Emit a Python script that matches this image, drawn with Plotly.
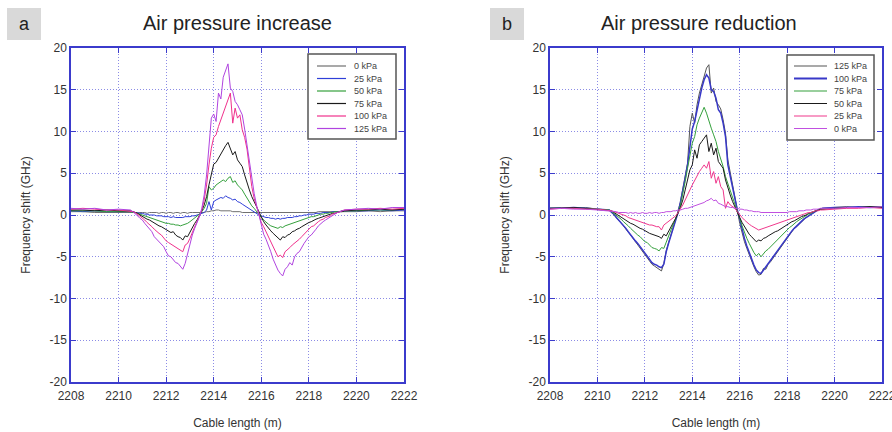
import plotly.graph_objects as go

# ---------------- shared x grid (cable length, m) ----------------
x_left = [2208.0, 2208.5, 2209.0, 2209.5, 2210.0]
x_mid = [round(2210.5 + 0.1 * i, 1) for i in range(91)]
x_right = [2220.0, 2220.5, 2221.0, 2221.5, 2222.0]
cable_length = x_left + x_mid + x_right

# ---------------- panel a : air pressure increase ----------------
a_labels = ["0 kPa", "25 kPa", "50 kPa", "75 kPa", "100 kPa", "125 kPa"]
a_colors = ["#707070", "#2f3fd8", "#34a03c", "#1a1a1a", "#f0308c", "#b044e0"]

a_0 = [0.4, 0.4, 0.3, 0.3, 0.3,
       0.3, 0.3, 0.3, 0.2, 0.3, 0.3, 0.3, 0.2, 0.3, 0.3,
       0.3, 0.3, 0.2, 0.3, 0.3, 0.2, 0.3, 0.3, 0.2, 0.3,
       0.3, 0.2, 0.3, 0.3, 0.2, 0.3, 0.3, 0.3, 0.3, 0.3,
       0.3, 0.3, 0.4, 0.4, 0.5, 0.5, 0.6, 0.6, 0.5, 0.5,
       0.5, 0.5, 0.5, 0.4, 0.4, 0.4, 0.4, 0.3, 0.3, 0.3,
       0.3, 0.3, 0.3, 0.3, 0.3, 0.3, 0.3, 0.3, 0.3, 0.3,
       0.3, 0.3, 0.3, 0.3, 0.3, 0.3, 0.3, 0.3, 0.3, 0.3,
       0.3, 0.3, 0.3, 0.3, 0.3, 0.3, 0.3, 0.3, 0.3, 0.4,
       0.4, 0.4, 0.4, 0.4, 0.4, 0.4, 0.4, 0.4, 0.4, 0.4,
       0.4,
       0.4, 0.5, 0.4, 0.5, 0.5]
a_25 = [0.5, 0.4, 0.5, 0.4, 0.4,
        0.4, 0.4, 0.3, 0.3, 0.2, 0.2, 0.1, 0.1, 0.0, 0.0,
        0.0, -0.1, -0.1, -0.1, -0.2, -0.2, -0.2, -0.3, -0.2, -0.3,
        -0.3, -0.3, -0.3, -0.2, -0.2, -0.2, -0.1, -0.1, 0.0, 0.1,
        0.2, 0.3, 0.6, 1.6, 0.6, 1.6, 1.8, 2.0, 2.1, 2.0,
        2.3, 2.1, 2.0, 1.8, 1.9, 1.6, 1.5, 1.3, 1.1, 0.9,
        0.7, 0.5, 0.3, 0.1, 0.0, -0.1, -0.2, -0.3, -0.3, -0.4,
        -0.4, -0.5, -0.4, -0.5, -0.4, -0.4, -0.3, -0.3, -0.3, -0.2,
        -0.2, -0.1, -0.1, 0.0, 0.0, 0.1, 0.1, 0.1, 0.2, 0.2,
        0.2, 0.3, 0.3, 0.3, 0.3, 0.4, 0.4, 0.4, 0.4, 0.5,
        0.5,
        0.5, 0.5, 0.6, 0.5, 0.6]
a_50 = [0.5, 0.5, 0.5, 0.4, 0.4,
        0.4, 0.3, 0.3, 0.2, 0.1, 0.0, -0.1, -0.2, -0.3, -0.4,
        -0.5, -0.6, -0.7, -0.8, -0.9, -1.0, -1.0, -1.1, -1.1, -1.2,
        -1.2, -1.3, -1.2, -1.1, -1.0, -0.8, -0.6, -0.4, -0.2, 0.1,
        0.4, 0.8, 1.4, 3.4, 3.0, 3.2, 3.6, 3.8, 3.9, 4.2,
        4.0, 4.4, 4.6, 3.9, 4.1, 3.6, 3.3, 3.0, 2.5, 2.0,
        1.5, 1.1, 0.8, 0.4, 0.1, -0.3, -0.6, -0.9, -1.1, -1.3,
        -1.4, -1.5, -1.6, -1.4, -1.5, -1.3, -1.2, -1.1, -1.0, -0.9,
        -0.8, -0.7, -0.6, -0.5, -0.4, -0.3, -0.2, -0.2, -0.1, 0.0,
        0.1, 0.1, 0.2, 0.2, 0.3, 0.3, 0.4, 0.4, 0.4, 0.5,
        0.5,
        0.5, 0.6, 0.6, 0.6, 0.7]
a_75 = [0.6, 0.6, 0.5, 0.6, 0.5,
        0.5, 0.4, 0.3, 0.2, 0.0, -0.2, -0.3, -0.5, -0.6, -0.8,
        -1.0, -1.1, -1.3, -1.4, -1.6, -1.8, -1.9, -2.1, -2.0, -2.4,
        -2.6, -2.7, -3.0, -2.5, -2.6, -2.0, -1.5, -1.0, -0.6, -0.1,
        0.5, 1.2, 2.2, 3.6, 5.0, 6.1, 6.3, 6.8, 7.4, 7.9,
        8.3, 8.7, 8.0, 7.2, 7.6, 6.6, 6.2, 5.8, 4.8, 3.8,
        3.0, 2.2, 1.6, 0.9, 0.2, -0.4, -0.8, -1.2, -1.6, -1.9,
        -2.2, -2.5, -2.8, -3.0, -2.6, -2.7, -2.4, -2.3, -2.0, -1.9,
        -1.7, -1.6, -1.4, -1.2, -1.0, -0.9, -0.8, -0.6, -0.5, -0.4,
        -0.3, -0.2, -0.1, 0.0, 0.1, 0.2, 0.2, 0.3, 0.4, 0.4,
        0.5,
        0.6, 0.6, 0.7, 0.6, 0.7]
a_100 = [0.7, 0.8, 0.7, 0.6, 0.6,
         0.5, 0.4, 0.3, 0.1, -0.1, -0.3, -0.6, -0.9, -1.1, -1.4,
         -1.7, -2.0, -2.2, -2.4, -2.8, -3.1, -3.3, -3.5, -3.6, -3.9,
         -4.1, -4.3, -4.4, -3.6, -3.4, -2.8, -2.0, -1.4, -0.8, -0.1,
         0.6, 1.8, 3.6, 6.0, 8.0, 9.3, 9.6, 10.6, 11.4, 12.4,
         13.2, 13.8, 14.6, 11.0, 12.8, 11.6, 12.0, 10.2, 9.3, 7.9,
         5.6, 3.4, 2.0, 1.0, 0.0, -0.9, -1.4, -2.0, -2.6, -3.1,
         -3.8, -4.4, -5.0, -4.8, -5.1, -4.4, -4.2, -3.9, -3.6, -3.4,
         -3.2, -2.9, -2.6, -2.3, -2.1, -1.8, -1.4, -1.3, -1.0, -0.8,
         -0.6, -0.5, -0.3, -0.2, -0.1, 0.1, 0.2, 0.3, 0.4, 0.5,
         0.6,
         0.7, 0.7, 0.8, 0.7, 0.8]
a_125 = [0.8, 0.7, 0.8, 0.6, 0.7,
         0.6, 0.4, 0.2, -0.1, -0.4, -0.6, -1.0, -1.3, -1.6, -2.0,
         -2.6, -2.9, -3.2, -3.5, -3.8, -4.4, -4.9, -5.0, -5.4, -5.7,
         -5.8, -6.1, -6.5, -5.8, -4.6, -3.4, -2.4, -1.6, -0.9, -0.2,
         0.8, 2.4, 4.8, 8.2, 11.6, 12.1, 11.2, 14.6, 13.9, 16.5,
         17.4, 18.1, 15.2, 14.8, 13.6, 13.2, 12.6, 12.0, 10.3, 8.4,
         6.0, 4.3, 2.6, 1.2, -0.1, -1.2, -2.3, -2.9, -3.6, -4.4,
         -5.3, -6.0, -6.6, -7.0, -7.3, -6.5, -6.2, -5.7, -6.0, -5.0,
         -4.6, -4.4, -3.8, -3.4, -3.0, -2.6, -2.4, -2.1, -1.7, -1.3,
         -1.0, -0.8, -0.6, -0.4, -0.2, 0.0, 0.1, 0.3, 0.4, 0.5,
         0.6,
         0.7, 0.8, 0.7, 0.9, 0.9]

# ---------------- panel b : air pressure reduction ----------------
b_labels = ["125 kPa", "100 kPa", "75 kPa", "50 kPa", "25 kPa", "0 kPa"]
b_colors = ["#555555", "#3838c8", "#34a03c", "#1a1a1a", "#f0388c", "#c050e0"]
b_widths = [1.0, 1.5, 1.0, 1.0, 1.0, 1.0]

b_125 = [0.8, 0.9, 0.8, 0.9, 0.7,
         0.6, 0.3, 0.0, -0.4, -0.6, -0.9, -1.3, -1.7, -2.0, -2.4,
         -2.8, -3.2, -3.5, -3.9, -4.3, -4.8, -5.2, -5.6, -5.9, -6.1,
         -6.3, -6.4, -6.7, -5.8, -4.3, -3.3, -2.4, -1.6, -0.6, 0.4,
         1.6, 3.0, 4.6, 6.2, 10.6, 12.2, 11.0, 13.2, 14.6, 15.6,
         16.9, 17.6, 18.0, 14.6, 15.2, 13.6, 13.2, 12.7, 11.4, 9.8,
         6.6, 5.2, 3.8, 2.3, 0.6, -1.0, -2.2, -3.2, -4.0, -4.8,
         -5.4, -6.2, -6.8, -7.2, -7.1, -6.4, -6.5, -5.9, -5.6, -5.2,
         -4.8, -4.5, -4.0, -3.6, -3.2, -2.8, -2.4, -2.0, -1.6, -1.4,
         -1.1, -0.8, -0.5, -0.3, -0.1, 0.1, 0.3, 0.5, 0.6, 0.7,
         0.8,
         0.9, 1.0, 0.9, 1.0, 1.0]
b_100 = [0.8, 0.8, 0.9, 0.8, 0.7,
         0.6, 0.3, 0.1, -0.3, -0.6, -0.9, -1.2, -1.6, -2.0, -2.4,
         -2.7, -3.1, -3.4, -3.8, -4.2, -4.6, -5.0, -5.4, -5.7, -5.9,
         -6.0, -6.2, -6.3, -5.9, -4.4, -3.4, -2.5, -1.6, -0.7, 0.3,
         1.5, 2.8, 4.4, 6.0, 8.2, 10.3, 11.2, 12.6, 14.0, 15.2,
         16.2, 16.8, 16.4, 15.0, 14.8, 14.0, 12.6, 12.2, 11.0, 9.4,
         6.0, 4.6, 3.0, 1.6, 0.6, -0.5, -1.8, -2.8, -3.7, -4.5,
         -5.3, -6.0, -6.6, -6.9, -7.0, -6.6, -6.2, -5.8, -5.4, -5.0,
         -4.6, -4.3, -3.8, -3.4, -3.0, -2.7, -2.3, -1.9, -1.6, -1.3,
         -1.0, -0.7, -0.5, -0.3, -0.1, 0.1, 0.3, 0.4, 0.6, 0.7,
         0.8,
         0.9, 0.9, 1.0, 0.9, 1.0]
b_75 = [0.8, 0.8, 0.8, 0.8, 0.7,
        0.6, 0.4, 0.2, 0.0, -0.3, -0.5, -0.8, -1.0, -1.3, -1.6,
        -1.9, -2.1, -2.4, -2.6, -2.9, -3.2, -3.3, -3.6, -3.9, -4.0,
        -4.1, -4.3, -3.9, -4.0, -3.2, -2.5, -1.8, -1.1, -0.5, 0.3,
        1.2, 2.5, 4.0, 5.6, 7.0, 8.6, 9.4, 10.8, 11.6, 12.3,
        12.9, 12.2, 11.2, 10.4, 9.6, 8.8, 7.6, 6.8, 5.8, 4.6,
        3.8, 3.0, 2.2, 1.4, 0.5, -0.4, -1.3, -2.1, -2.8, -3.4,
        -4.0, -4.5, -4.9, -4.6, -5.0, -4.6, -4.3, -4.1, -3.8, -3.5,
        -3.2, -2.9, -2.6, -2.3, -2.1, -1.8, -1.5, -1.3, -1.0, -0.8,
        -0.6, -0.4, -0.3, -0.1, 0.1, 0.2, 0.4, 0.5, 0.6, 0.7,
        0.7,
        0.8, 0.9, 0.9, 0.9, 1.0]
b_50 = [0.8, 0.8, 0.9, 0.8, 0.7,
        0.6, 0.5, 0.3, 0.1, 0.0, -0.2, -0.4, -0.6, -0.8, -1.0,
        -1.1, -1.3, -1.5, -1.6, -1.7, -1.9, -2.0, -2.2, -2.3, -2.4,
        -2.5, -2.6, -2.8, -2.3, -2.5, -1.9, -1.4, -0.9, -0.4, 0.2,
        0.9, 1.8, 3.0, 4.2, 5.4, 6.0, 7.8, 6.8, 8.4, 8.8,
        9.2, 9.6, 7.6, 8.6, 7.2, 8.0, 6.4, 6.0, 5.6, 4.2,
        3.2, 2.4, 1.6, 0.9, 0.3, -0.3, -0.9, -1.4, -1.9, -2.3,
        -2.6, -2.9, -3.2, -3.0, -3.1, -2.8, -2.7, -2.5, -2.3, -2.2,
        -2.0, -1.9, -1.7, -1.5, -1.3, -1.2, -1.0, -0.8, -0.7, -0.5,
        -0.4, -0.2, -0.1, 0.0, 0.2, 0.3, 0.4, 0.5, 0.6, 0.7,
        0.7,
        0.8, 0.9, 0.9, 1.0, 0.9]
b_25 = [0.7, 0.8, 0.8, 0.7, 0.7,
        0.6, 0.5, 0.4, 0.3, 0.2, 0.1, 0.0, -0.1, -0.3, -0.4,
        -0.5, -0.6, -0.7, -0.8, -0.9, -1.0, -1.1, -1.2, -1.2, -1.3,
        -1.4, -1.4, -1.8, -1.2, -1.0, -0.8, -0.6, -0.4, -0.1, 0.3,
        0.7, 1.2, 1.8, 2.5, 3.0, 3.6, 4.2, 4.6, 5.2, 5.6,
        6.0, 5.6, 6.4, 4.4, 5.2, 3.8, 4.6, 3.4, 3.0, 0.8,
        1.6, 1.2, 1.0, 0.8, 0.4, 0.0, -0.3, -0.6, -0.9, -1.1,
        -1.3, -1.5, -1.6, -1.8, -1.7, -1.6, -1.5, -1.4, -1.3, -1.2,
        -1.1, -1.0, -0.9, -0.8, -0.7, -0.6, -0.5, -0.4, -0.3, -0.2,
        -0.1, 0.0, 0.1, 0.2, 0.3, 0.3, 0.4, 0.5, 0.5, 0.6,
        0.6,
        0.7, 0.8, 0.8, 0.9, 0.8]
b_0 = [0.7, 0.8, 0.7, 0.7, 0.6,
       0.5, 0.5, 0.4, 0.4, 0.3, 0.3, 0.3, 0.3, 0.2, 0.3,
       0.2, 0.3, 0.2, 0.2, 0.3, 0.2, 0.2, 0.3, 0.2, 0.3,
       0.3, 0.2, 0.3, 0.3, 0.4, 0.4, 0.4, 0.5, 0.5, 0.6,
       0.6, 0.7, 0.8, 0.8, 0.9, 1.0, 1.1, 1.2, 1.3, 1.4,
       1.5, 1.7, 1.8, 2.0, 1.7, 1.8, 1.4, 1.3, 1.1, 1.0,
       1.0, 0.9, 0.9, 0.8, 0.8, 0.7, 0.7, 0.6, 0.6, 0.5,
       0.5, 0.4, 0.4, 0.4, 0.3, 0.3, 0.3, 0.3, 0.3, 0.3,
       0.3, 0.3, 0.3, 0.3, 0.3, 0.3, 0.4, 0.4, 0.4, 0.4,
       0.5, 0.5, 0.5, 0.6, 0.6, 0.6, 0.7, 0.7, 0.7, 0.8,
       0.8,
       0.8, 0.9, 0.9, 0.9, 1.0]

a_series = [a_0, a_25, a_50, a_75, a_100, a_125]
b_series = [b_125, b_100, b_75, b_50, b_25, b_0]

x_ticks = [2208, 2210, 2212, 2214, 2216, 2218, 2220, 2222]
y_ticks = [-20, -15, -10, -5, 0, 5, 10, 15, 20]
y_ticktext = [str(v) for v in y_ticks]

W, H = 892, 432
FONT = "Liberation Sans, Arial, sans-serif"
AX = "#3b3bcc"
GRID = "#8c8ce6"

fig = go.Figure()
for ys, name, col in zip(a_series, a_labels, a_colors):
    fig.add_trace(go.Scatter(x=cable_length, y=ys, mode="lines", name=name,
                             line=dict(color=col, width=1.0),
                             xaxis="x", yaxis="y", showlegend=False))
for ys, name, col, lw in zip(b_series, b_labels, b_colors, b_widths):
    fig.add_trace(go.Scatter(x=cable_length, y=ys, mode="lines", name=name,
                             line=dict(color=col, width=lw),
                             xaxis="x2", yaxis="y2", showlegend=False))

ydom = [1 - 382 / H, 1 - 48 / H]
common_x = dict(range=[2208, 2222], tickvals=x_ticks, showline=True, linecolor=AX, linewidth=1.5,
                mirror="ticks", ticks="inside", ticklen=5, tickcolor=AX, tickwidth=1.2,
                showgrid=True, gridcolor=GRID, griddash="1px,2px", gridwidth=1, zeroline=False,
                tickfont=dict(family=FONT, size=12, color="#333"), ticklabeloverflow="allow",
                ticklabelstandoff=2,
                title=dict(text="Cable length (m)", font=dict(family=FONT, size=12, color="#333"), standoff=16),
                automargin=False)
common_y = dict(range=[-20, 20], tickvals=y_ticks, ticktext=y_ticktext, showline=True, linecolor=AX,
                linewidth=1.5, mirror="ticks", ticks="inside", ticklen=5, tickcolor=AX, tickwidth=1.2,
                showgrid=True, gridcolor=GRID, griddash="1px,2px", gridwidth=1, zeroline=False,
                tickfont=dict(family=FONT, size=12, color="#333"),
                title=dict(text="Frequency shift (GHz)", font=dict(family=FONT, size=12, color="#333"), standoff=16),
                automargin=False)

# ---------------- hand-drawn legends (paper pixel layout) ----------------
def px(xp):
    return xp / W


def py(yp):
    return 1 - yp / H


shapes = [
    dict(type="rect", xref="paper", yref="paper", x0=px(7), x1=px(41), y0=py(40), y1=py(8),
         fillcolor="#d9d9d9", line=dict(width=0), layer="below"),
    dict(type="rect", xref="paper", yref="paper", x0=px(490), x1=px(524), y0=py(40), y1=py(8),
         fillcolor="#d9d9d9", line=dict(width=0), layer="below"),
]
annotations = [
    dict(text="a", x=px(24), y=py(24), xref="paper", yref="paper", showarrow=False,
         xanchor="center", yanchor="middle", font=dict(family=FONT, size=18, color="#222")),
    dict(text="b", x=px(507), y=py(24), xref="paper", yref="paper", showarrow=False,
         xanchor="center", yanchor="middle", font=dict(family=FONT, size=18, color="#222")),
    dict(text="Air pressure increase", x=px(237), y=py(23), xref="paper", yref="paper",
         showarrow=False, xanchor="center", yanchor="middle", font=dict(family=FONT, size=20, color="#222")),
    dict(text="Air pressure reduction", x=px(699), y=py(23), xref="paper", yref="paper",
         showarrow=False, xanchor="center", yanchor="middle", font=dict(family=FONT, size=20, color="#222")),
]

legend_specs = [
    # (box x0, x1, y0, y1, line x0, x1, text x, labels, colors, widths)
    (308, 396, 54, 139, 317, 346, 352, a_labels, a_colors, [1.2] * 6),
    (787, 874, 55, 140, 794, 827, 832, b_labels, b_colors, [1.2, 1.8, 1.2, 1.2, 1.2, 1.2]),
]
row_y = [66, 78.5, 91, 103.5, 116, 128.5]
for bx0, bx1, by0, by1, lx0, lx1, tx, labels, colors, widths in legend_specs:
    shapes.append(dict(type="rect", xref="paper", yref="paper", x0=px(bx0), x1=px(bx1),
                       y0=py(by1), y1=py(by0), fillcolor="white",
                       line=dict(color="#555555", width=1.5), layer="above"))
    for ry, lab, col, lw in zip(row_y, labels, colors, widths):
        shapes.append(dict(type="line", xref="paper", yref="paper", x0=px(lx0), x1=px(lx1),
                           y0=py(ry), y1=py(ry), line=dict(color=col, width=lw), layer="above"))
        annotations.append(dict(text=lab, x=px(tx), y=py(ry), xref="paper", yref="paper",
                                showarrow=False, xanchor="left", yanchor="middle",
                                font=dict(family=FONT, size=9, color="#444")))

fig.update_layout(
    width=W, height=H, margin=dict(l=0, r=0, t=0, b=0),
    paper_bgcolor="white", plot_bgcolor="white",
    font=dict(family=FONT, color="#333"),
    xaxis=dict(domain=[71 / W, 404 / W], anchor="y", **common_x),
    yaxis=dict(domain=ydom, anchor="x", **common_y),
    xaxis2=dict(domain=[550 / W, 882 / W], anchor="y2", **common_x),
    yaxis2=dict(domain=ydom, anchor="x2", **common_y),
    showlegend=False,
    shapes=shapes,
    annotations=annotations,
)

fig.write_html("out.html")
